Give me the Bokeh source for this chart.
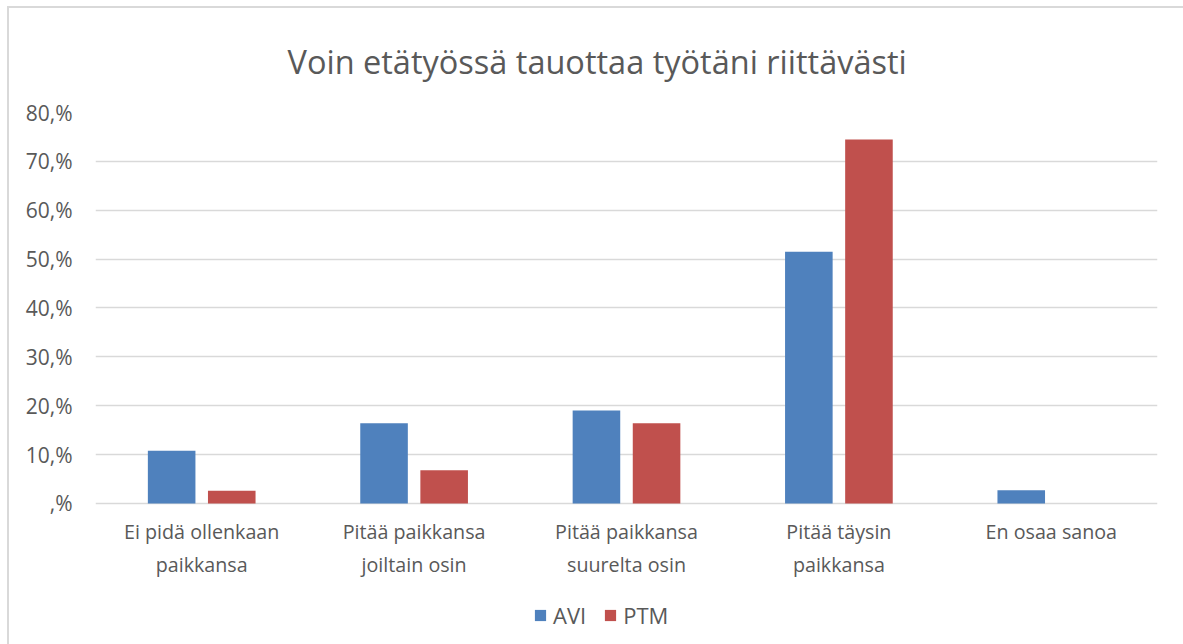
from bokeh.plotting import figure
from bokeh.models import Range1d, FixedTicker, Legend, LegendItem, ColumnDataSource, FactorRange
from bokeh.core.properties import value
from bokeh.transform import dodge
from bokeh.embed import file_html
from bokeh.resources import INLINE

categories = ["Ei pidä ollenkaan\npaikkansa", "Pitää paikkansa\njoiltain osin",
              "Pitää paikkansa\nsuurelta osin", "Pitää täysin\npaikkansa", "En osaa sanoa"]
avi = [10.8, 16.4, 19.0, 51.5, 2.7]
ptm = [2.6, 6.8, 16.4, 74.5, 0.0]
series_names = ["AVI", "PTM"]
colors = ["#4F81BD", "#C0504D"]
tick_values = [0, 10, 20, 30, 40, 50, 60, 70, 80]
tick_labels = [",%", "10,%", "20,%", "30,%", "40,%", "50,%", "60,%", "70,%", "80,%"]
title_text = "Voin etätyössä tauottaa työtäni riittävästi"

FONT = "Open Sans"
TXT = "#595959"

src = ColumnDataSource(dict(cat=categories, avi=avi, ptm=ptm))

# frame covers plot area plus the label/legend band below zero
p = figure(x_range=FactorRange(factors=categories), y_range=Range1d(-28.45, 80),
           frame_width=1062, frame_height=530, output_backend="svg", toolbar_location=None,
           min_border_left=86, min_border_right=26, min_border_top=98, min_border_bottom=2)

p.title.text = title_text
p.title.align = "left"
p.title.text_font = FONT
p.title.text_font_size = "32.5px"
p.title.text_font_style = "normal"
p.title.text_color = TXT
p.title.text_line_height = 0.8
p.title.offset = 192
p.title.standoff = 57

w = 0.224
r1 = p.vbar(x=dodge("cat", -0.1415, range=p.x_range), top="avi", width=w, source=src,
            fill_color=colors[0], line_color=None)
r2 = p.vbar(x=dodge("cat", 0.1415, range=p.x_range), top="ptm", width=w, source=src,
            fill_color=colors[1], line_color=None)

# category labels under the bars
p.text(x="cat", y=-3.0, text="cat", source=src, text_align="center", text_baseline="top",
       text_font=value(FONT), text_font_size="19.7px", text_color=TXT, text_line_height=1.21)

p.xgrid.grid_line_color = None
p.ygrid.ticker = FixedTicker(ticks=tick_values)
p.ygrid.grid_line_color = "#d9d9d9"
p.ygrid.grid_line_width = 1.3
p.outline_line_color = None
p.xaxis.visible = False

p.yaxis.ticker = FixedTicker(ticks=tick_values)
p.yaxis.major_label_overrides = {v: l for v, l in zip(tick_values, tick_labels)}
p.yaxis.axis_line_color = None
p.yaxis.major_tick_line_color = None
p.yaxis.minor_tick_line_color = None
p.yaxis.major_label_text_font = FONT
p.yaxis.major_label_text_font_size = "21px"
p.yaxis.major_label_text_color = TXT
p.yaxis.major_label_standoff = 17

legend = Legend(items=[LegendItem(label=series_names[0], renderers=[r1]),
                       LegendItem(label=series_names[1], renderers=[r2])],
                orientation="horizontal", location=(438, 12))
legend.label_text_font = FONT
legend.label_text_font_size = "22px"
legend.label_text_color = TXT
legend.glyph_width = 14
legend.glyph_height = 14
legend.spacing = 17
legend.label_standoff = 6
legend.border_line_color = None
legend.background_fill_alpha = 0
legend.margin = 0
legend.padding = 4
p.add_layout(legend)

p.styles = {"margin-left": "7px", "margin-top": "6px",
            "border-left": "2px solid #d9d9d9", "border-top": "2px solid #d9d9d9",
            "border-right": "none", "border-bottom": "none"}

open("out.html", "w").write(file_html(p, INLINE))
